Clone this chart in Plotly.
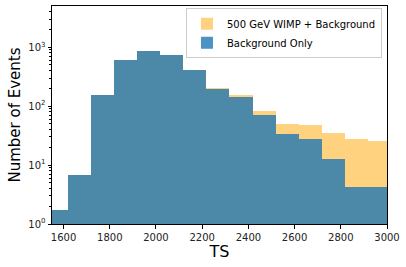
import plotly.graph_objects as go

bin_left_edges = [1518, 1618, 1718, 1818, 1918, 2018, 2118, 2218, 2318, 2418, 2518, 2618, 2718, 2818, 2918]
bin_width = 100
signal_plus_bkg = [1.73, 6.9, 155, 609, 865, 740, 412, 204, 155, 84, 50, 48, 35, 27.7, 25.7]
background_only = [1.73, 6.9, 155, 609, 865, 740, 412, 196, 143, 71, 33.7, 27.7, 12.7, 4.25, 4.25]

centers = [e + bin_width / 2 for e in bin_left_edges]
minor_vals = [m * 10 ** d for d in range(0, 4) for m in range(2, 10) if m * 10 ** d < 5000]

fig = go.Figure()
fig.add_trace(go.Bar(
    x=centers, y=signal_plus_bkg, width=[bin_width] * len(centers),
    marker=dict(color="rgba(255,165,0,0.5)", line=dict(width=0)),
    name="500 GeV WIMP + Background",
))
fig.add_trace(go.Bar(
    x=centers, y=background_only, width=[bin_width] * len(centers),
    marker=dict(color="rgba(31,119,180,0.8)", line=dict(width=0)),
    name="Background Only",
))

font = "DejaVu Sans"
fig.update_layout(
    width=406, height=267,
    margin=dict(l=52, r=19, t=6, b=43, autoexpand=False),
    barmode="overlay", bargap=0,
    plot_bgcolor="white", paper_bgcolor="white",
    font=dict(family=font, size=10, color="#222222"),
    legend=dict(
        x=0.985, y=0.99, xanchor="right", yanchor="top",
        bgcolor="rgba(255,255,255,0.8)", bordercolor="#cccccc", borderwidth=1,
        font=dict(size=10, color="black"), tracegroupgap=0,
    ),
    showlegend=True,
)
fig.update_xaxes(
    range=[1550, 3000], showline=True, mirror=True, linecolor="black", linewidth=1,
    ticks="outside", ticklen=3.5, tickcolor="black", showgrid=False, zeroline=False,
    tickvals=[1600, 1800, 2000, 2200, 2400, 2600, 2800, 3000], automargin=False,
    title=dict(text="TS", font=dict(size=16, color="black"), standoff=4),
)
fig.update_yaxes(
    type="log", range=[0, 3.7], showline=True, mirror=True, linecolor="black", linewidth=1,
    ticks="outside", ticklen=3.5, tickcolor="black", showgrid=False, zeroline=False,
    tickvals=[1, 10, 100, 1000], automargin=False,
    ticktext=["10<sup>0</sup>", "10<sup>1</sup>", "10<sup>2</sup>", "10<sup>3</sup>"],
    minor=dict(ticks="outside", ticklen=2, tickcolor="black", showgrid=False,
               tickmode="array", tickvals=minor_vals),
    title=dict(text="Number of Events", font=dict(size=15, color="black"), standoff=4),
)

fig.write_html("out.html", config={"displayModeBar": False},
               post_script="document.body.style.margin='0';")
